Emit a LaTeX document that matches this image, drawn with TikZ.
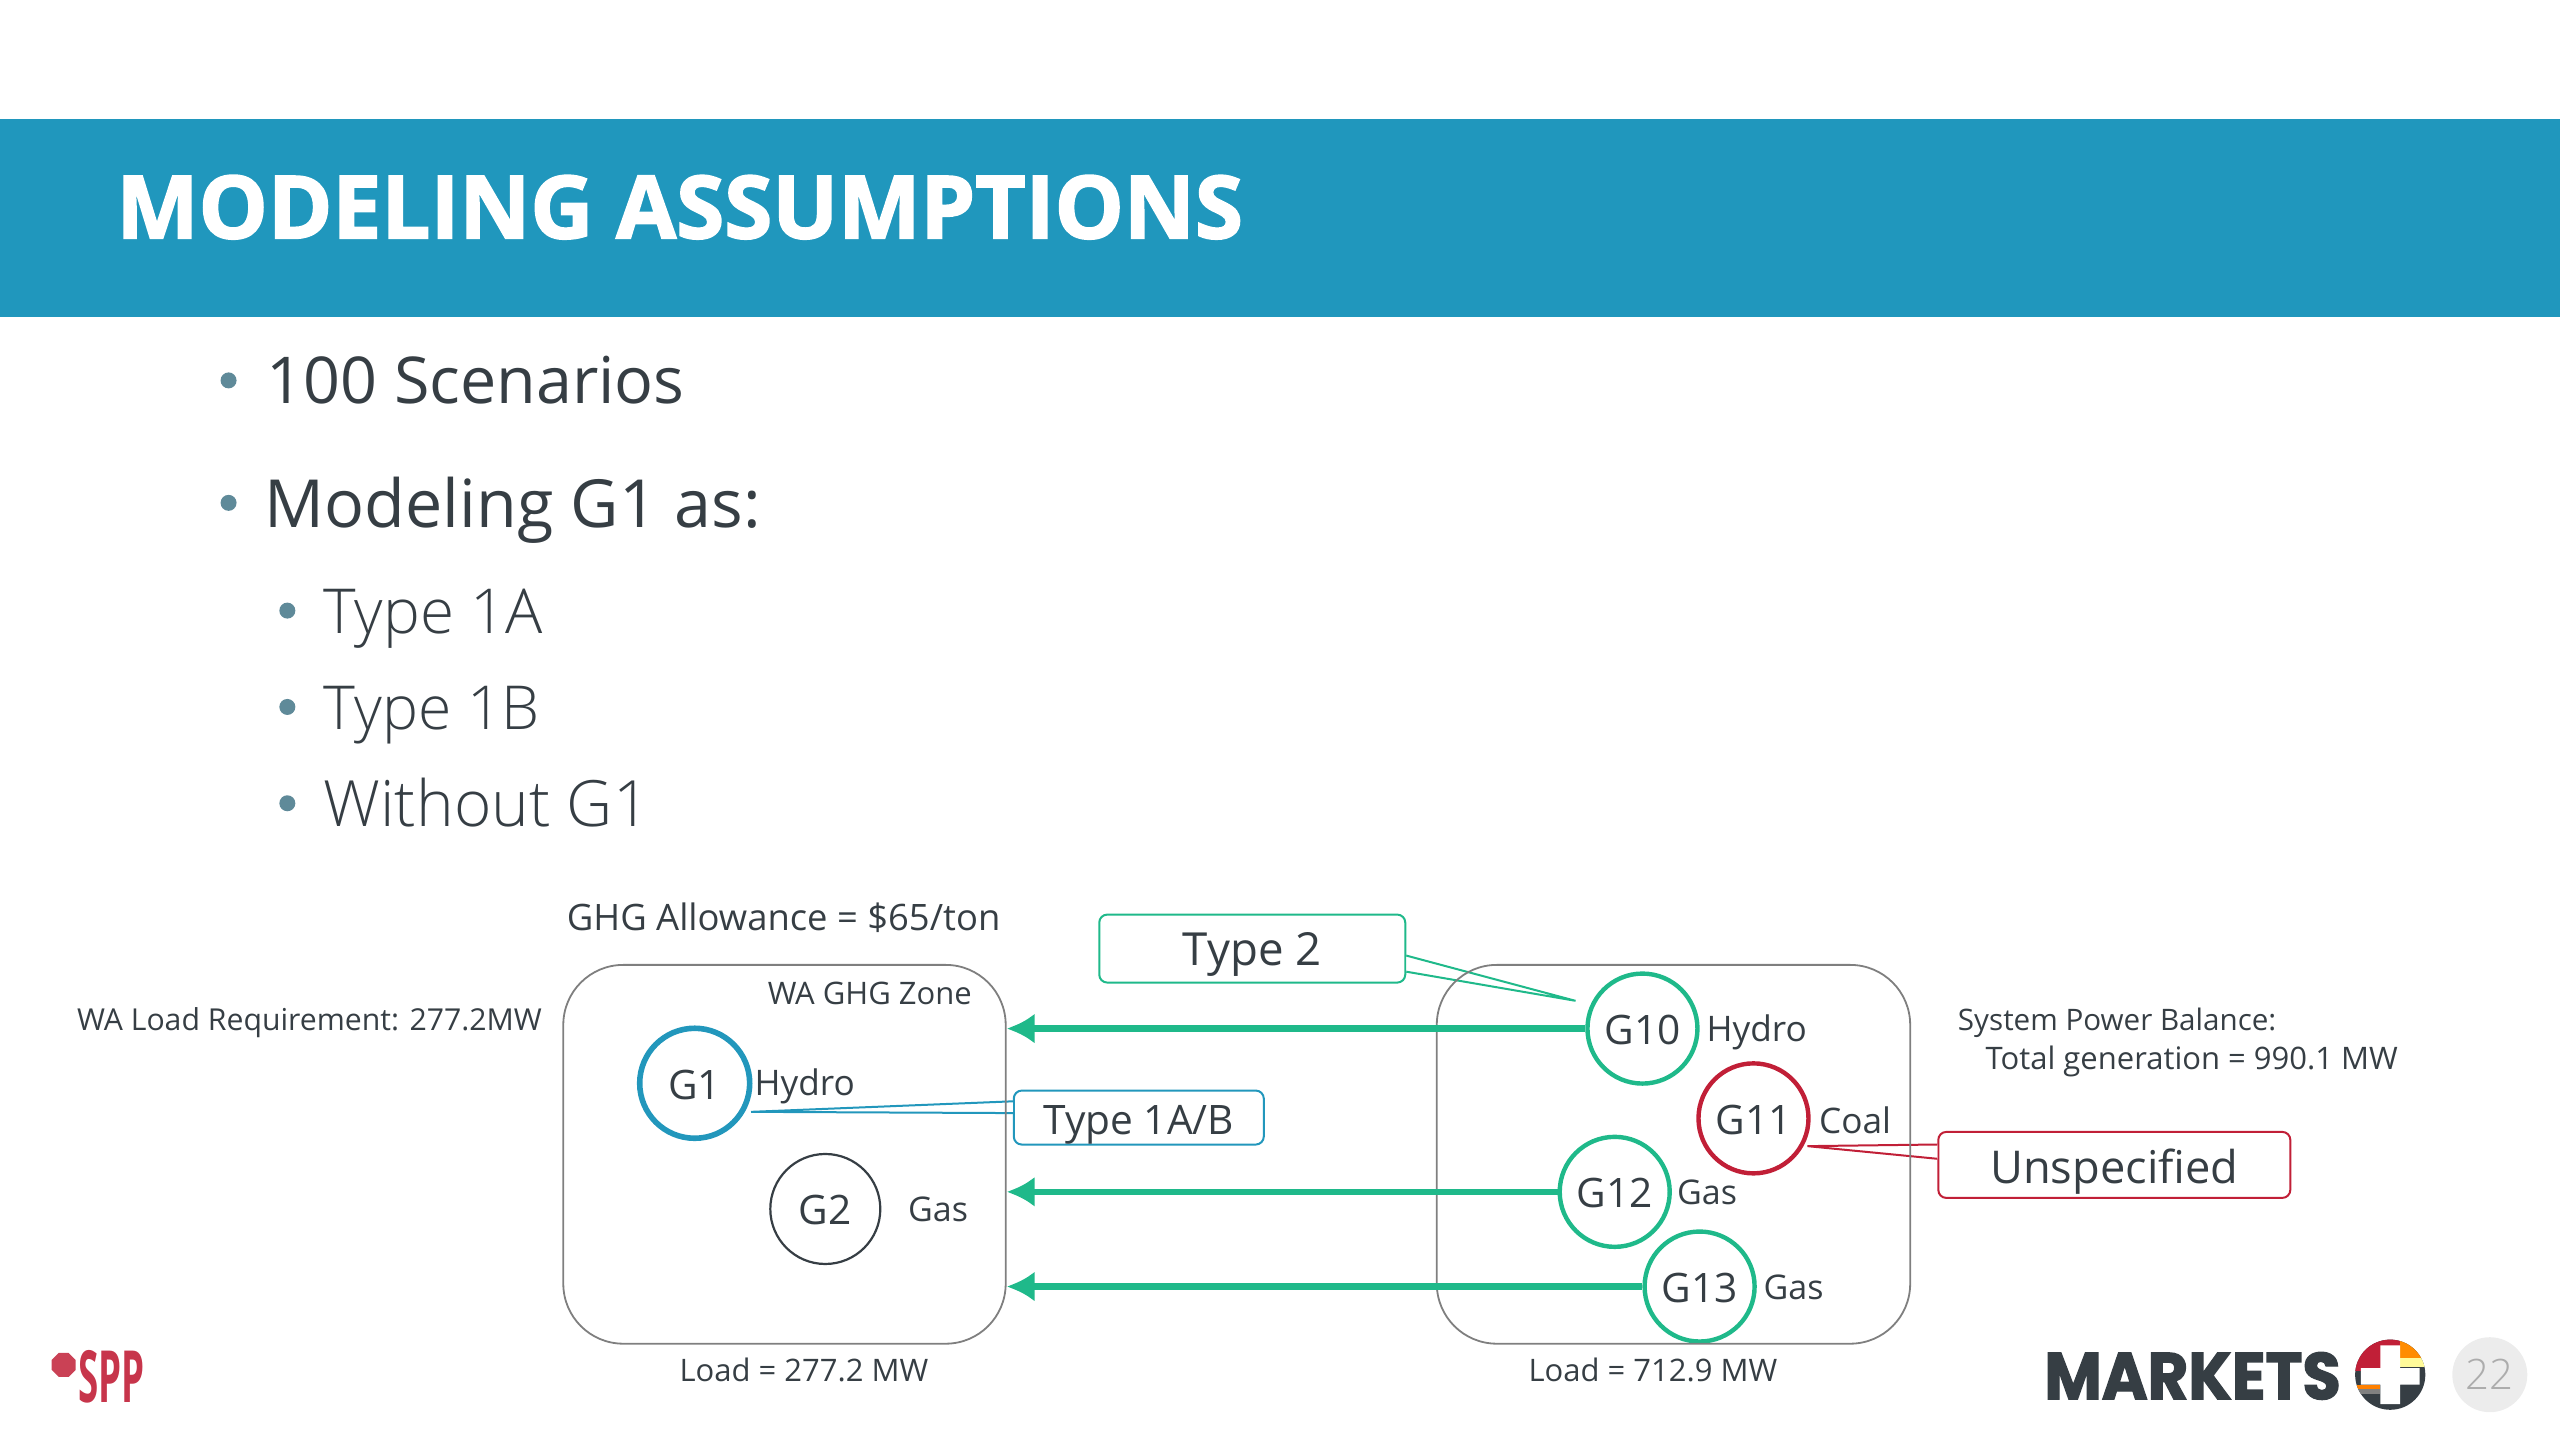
\documentclass[tikz,border=0pt]{standalone}
\usepackage{fontspec}
\setmainfont{Open Sans}
\newfontfamily\lightfont{Open Sans Light}
\newfontfamily\titrefont[BoldFeatures={FakeBold=2}]{Open Sans}
\newfontfamily\logofont[BoldFeatures={FakeBold=2}]{Poppins}
\usetikzlibrary{arrows,arrows.meta,positioning,calc,shapes.geometric}
\definecolor{bandeau}{HTML}{2097BD}
\definecolor{encre}{HTML}{363E44}
\definecolor{puce}{HTML}{5F8A99}
\definecolor{vert}{HTML}{1FB98A}
\definecolor{bleu}{HTML}{2297BC}
\definecolor{rouge}{HTML}{C11F37}
\definecolor{cadre}{HTML}{7F7F7F}

\begin{document}
\begin{tikzpicture}[x=0.81633pt,y=-0.81633pt,text=encre]
\tikzstyle{flux}=[-{Latex[length=14pt,width=15pt]},line width=3.2pt,vert]
\tikzstyle{label}=[anchor=base west,inner sep=0pt,font=\fontsize{17.6}{20}\selectfont]
\tikzstyle{petit}=[anchor=base west,inner sep=0pt,font=\fontsize{15.5}{18}\selectfont]
\tikzstyle{fin}=[anchor=base west,inner sep=0pt,font=\lightfont\fontsize{31}{36}\selectfont]
\tikzstyle{puce}=[circle,fill=puce,inner sep=0pt,minimum size=8pt]
\tikzstyle{gen}=[circle,draw,inner sep=0pt,minimum size=55pt,line width=2.2pt,text height=16pt,font=\fontsize{20.3}{24}\selectfont]
\tikzstyle{zone}=[draw=cadre,line width=0.9pt,rounded corners=30pt,inner sep=0pt]
\tikzstyle{bulle}=[draw,fill=white,rounded corners=4pt,line width=1pt,inner sep=0pt]
\useasboundingbox (0,0) rectangle (1568,882);
% title band
\fill[bandeau] (0,73) rectangle (1568,194);
\node[anchor=base west,inner sep=0pt,white,font=\titrefont\bfseries\fontsize{43.6}{48}\selectfont] (titre) at (71,146) {MODELING ASSUMPTIONS};
% bullets
\node[puce] (p1) at (140,233) {};
\node[puce] (p2) at (140,308) {};
\node[puce] (p3) at (176,374) {};
\node[puce] (p4) at (176,433) {};
\node[puce] (p5) at (176,492) {};
\node[anchor=base west,inner sep=0pt,font=\fontsize{32.3}{36}\selectfont] (l1) at (163,247) {100 Scenarios};
\node[anchor=base west,inner sep=0pt,font=\fontsize{33.2}{36}\selectfont] (l2) at (162,323) {Modeling G1 as:};
\node[fin] (l3) at (198,388) {Type 1A};
\node[fin,font=\lightfont\fontsize{30.3}{36}\selectfont] (l4) at (198,447) {Type 1B};
\node[fin,font=\lightfont\fontsize{31.9}{36}\selectfont] (l5) at (198,506) {Without G1};
% callouts go under the zones
\node[bulle,draw=vert,minimum width=153pt,minimum height=34pt,text height=23pt,text depth=5.6pt,font=\fontsize{22.8}{27}\selectfont] (T2) at (767,581) {Type 2};
\node[bulle,draw=bleu,minimum width=125pt,minimum height=27pt,text height=21.5pt,text depth=5pt,font=\fontsize{20.3}{25}\selectfont] (T1) at (697.5,684.5) {Type 1A/B};
\node[bulle,draw=rouge,minimum width=176pt,minimum height=33pt,text height=24pt,text depth=5.6pt,font=\fontsize{22.6}{27}\selectfont] (Un) at (1295,713.5) {Unspecified};
% generators
\node[gen,bleu,text=encre,line width=2.8pt] (G1) at (425.5,663.5) {G1};
\node[gen,encre,line width=1.1pt] (G2) at (505.5,740.5) {G2};
\node[gen,vert,text=encre] (G10) at (1006,630) {G10};
\node[gen,rouge,text=encre] (G11) at (1074,685) {G11};
\node[gen,vert,text=encre] (G12) at (989,730) {G12};
\node[gen,vert,text=encre] (G13) at (1041,788) {G13};
% pointers
\coordinate (T2pt) at (965,613);
\coordinate (T1pt) at (460,681);
\coordinate (Unpt) at (1107,702);
\fill[white] ($(T2.north east)!0.6!(T2.south east)$) -- (T2pt) -- ($(T2.north east)!0.83!(T2.south east)$) -- cycle;
\draw[vert,line width=1pt] ($(T2.north east)!0.6!(T2.south east)$) -- (T2pt) -- ($(T2.north east)!0.83!(T2.south east)$);
\fill[white] ($(T1.north west)!0.21!(T1.south west)$) -- (T1pt) -- ($(T1.north west)!0.42!(T1.south west)$) -- cycle;
\draw[bleu,line width=1pt] ($(T1.north west)!0.21!(T1.south west)$) -- (T1pt) -- ($(T1.north west)!0.42!(T1.south west)$);
\fill[white] ($(Un.north west)!0.2!(Un.south west)$) -- (Unpt) -- ($(Un.north west)!0.41!(Un.south west)$) -- cycle;
\draw[rouge,line width=1pt] ($(Un.north west)!0.2!(Un.south west)$) -- (Unpt) -- ($(Un.north west)!0.41!(Un.south west)$);
% zones
\node[zone,minimum width=221.2pt,minimum height=189.4pt] (WA) at (480.5,707) {};
\node[zone,minimum width=236.7pt,minimum height=189.4pt] (RS) at (1025,707) {};
% flows
\draw[flux] (G10) -- (G10 -| WA.east);
\draw[flux] (G12) -- (G12 -| WA.east);
\draw[flux] (G13) -- (G13 -| WA.east);
% labels
\node[label,font=\fontsize{18.2}{20}\selectfont] (ghg) at (347,570) {GHG Allowance = \$65/ton};
\node[petit] (wz) at (470,615) {WA GHG Zone};
\node[petit,font=\fontsize{15.1}{18}\selectfont] (wl) at (47,631) {WA Load Requirement: 277.2MW};
\node[label] (h1) at (462,671) {Hydro};
\node[label,font=\fontsize{17}{20}\selectfont] (g2) at (556,748) {Gas};
\node[petit] (lw) at (416,846) {Load = 277.2 MW};
\node[petit] (lr) at (936,846) {Load = 712.9 MW};
\node[label] (h10) at (1045,638) {Hydro};
\node[label] (c11) at (1114,694) {Coal};
\node[label,font=\fontsize{17}{20}\selectfont] (g12) at (1027,738) {Gas};
\node[label,font=\fontsize{17}{20}\selectfont] (g13) at (1080,796) {Gas};
\node[petit,font=\fontsize{14.8}{18}\selectfont] (sp) at (1199,631) {System Power Balance:};
\node[petit] (tg) at (1216,655) {Total generation = 990.1 MW};
% SPP logo
\node[regular polygon,regular polygon sides=8,fill=rouge!85!white,inner sep=0pt,minimum size=13pt] (sppo) at (39,836) {};
\node[anchor=base west,inner sep=0pt,rouge!90!white,xscale=0.51,font=\bfseries\fontsize{36}{38}\selectfont] (spp) at (48,859) {SPP};
% Markets+ logo
\node[anchor=base west,inner sep=0pt,encre,xscale=0.945,font=\logofont\bfseries\fontsize{33}{36}\selectfont] (mk) at (1252,857) {MARKETS};
\begin{scope}
\clip (1464,842) circle (21.5);
\fill[encre] (1442,820) rectangle (1486,864);
\fill[rouge] (1442,820) rectangle (1470,840);
\fill[orange!90!yellow] (1470,820) rectangle (1486,832);
\fill[yellow!40!white] (1470,832) rectangle (1486,837);
\fill[orange] (1442,848) rectangle (1458,851);
\fill[gray] (1442,851) rectangle (1458,854);
\end{scope}
\fill[white] (1458,824) rectangle (1470,860) (1446,838) rectangle (1482,848);
% page number
\node[circle,fill=gray!15,minimum size=37.5pt,inner sep=0pt,text=gray!65!white,font=\lightfont\fontsize{21}{24}\selectfont] (page) at (1525,842) {22};
\end{tikzpicture}
\end{document}
